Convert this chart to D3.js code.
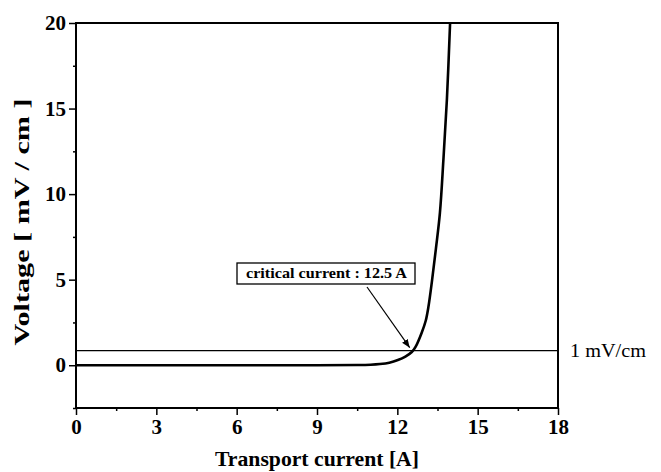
<!DOCTYPE html>
<html lang="en">
<head>
<meta charset="UTF-8">
<title>V-I curve</title>
<style>
  body { margin: 0; background: #fff; }
  text { font-family: "Liberation Serif", "DejaVu Serif", serif; }
</style>
</head>
<body>
<div class="chart"></div>
<script src="https://d3js.org/d3.v7.min.js"></script>
<script>
// data
const current = [0, 3, 6, 9, 10.5, 11, 11.35, 11.7, 12.02, 12.3, 12.54, 12.68, 12.91, 13.06, 13.16, 13.3, 13.44, 13.59, 13.72, 13.85, 13.97]
const voltage = [0, 0, 0, 0, 0.01, 0.03, 0.07, 0.15, 0.3, 0.5, 0.77, 1.07, 1.9, 2.6, 3.4, 5.0, 6.8, 8.9, 12.0, 15.5, 20]
const xTicks = [0, 3, 6, 9, 12, 15, 18]
const yTicks = [0, 5, 10, 15, 20]
const criterion = 0.85
const criterionLabel = '1 mV/cm'
const noteText = 'critical current :  12.5 A'
const criticalCurrent = 12.5

const width = 661, height = 472
const m = { left: 76, right: 103, top: 23, bottom: 64 }

const svg = d3.select('.chart').append('svg')
  .attr('width', width).attr('height', height)

const x = d3.scaleLinear().domain([0, 18]).range([m.left, width - m.right])
const y = d3.scaleLinear().domain([-2.5, 20]).range([height - m.bottom, m.top])

const data = current.map((c, i) => [c, voltage[i]])

// axes
svg.append('g')
  .attr('transform', 'translate(0,' + y(-2.5) + ')')
  .call(d3.axisBottom(x).tickValues(xTicks).tickSize(7).tickPadding(4))
svg.append('g')
  .attr('transform', 'translate(0,' + y(-2.5) + ')')
  .call(d3.axisBottom(x).tickValues(d3.range(1.5, 18, 3)).tickSize(3).tickFormat(''))

svg.append('g')
  .attr('transform', 'translate(' + x(0) + ',0)')
  .call(d3.axisLeft(y).tickValues(yTicks).tickSize(7).tickPadding(3))
svg.append('g')
  .attr('transform', 'translate(' + x(0) + ',0)')
  .call(d3.axisLeft(y).tickValues([-2.5, 2.5, 7.5, 12.5, 17.5]).tickSize(3).tickFormat(''))

svg.selectAll('.domain').remove()
svg.selectAll('.tick line').attr('stroke', '#000').attr('stroke-width', 1.5)
svg.selectAll('.tick text')
  .attr('font-family', '"Liberation Serif", serif')
  .attr('font-size', 21).attr('font-weight', 'bold')
  .attr('fill', '#000')

// frame
svg.append('rect')
  .attr('x', x(0)).attr('y', y(20))
  .attr('width', x(18) - x(0)).attr('height', y(-2.5) - y(20))
  .attr('fill', 'none').attr('stroke', '#000').attr('stroke-width', 2)

// criterion line
svg.append('line')
  .attr('x1', x(0)).attr('x2', x(18))
  .attr('y1', y(criterion)).attr('y2', y(criterion))
  .attr('stroke', '#000').attr('stroke-width', 1.3)
svg.append('text')
  .attr('x', x(18) + 12).attr('y', y(criterion) + 6)
  .attr('font-size', 18)
  .attr('textLength', 76).attr('lengthAdjust', 'spacingAndGlyphs')
  .text(criterionLabel)

// curve
svg.append('path')
  .datum(data)
  .attr('fill', 'none')
  .attr('stroke', '#000')
  .attr('stroke-width', 2.6)
  .attr('d', d3.line().x(d => x(d[0])).y(d => y(d[1])).curve(d3.curveCatmullRom.alpha(0.5)))

// annotation
svg.append('rect')
  .attr('x', 237).attr('y', 263)
  .attr('width', 178).attr('height', 21)
  .attr('fill', '#fff').attr('stroke', '#000').attr('stroke-width', 1.3)
svg.append('text')
  .attr('x', 246).attr('y', 278)
  .attr('font-size', 14).attr('font-weight', 'bold')
  .attr('textLength', 161).attr('lengthAdjust', 'spacingAndGlyphs')
  .text(noteText)

svg.append('defs').append('marker')
  .attr('id', 'arrow').attr('viewBox', '0 0 10 10')
  .attr('refX', 10).attr('refY', 5)
  .attr('markerWidth', 7).attr('markerHeight', 7)
  .attr('orient', 'auto')
  .append('path').attr('d', 'M0,1L10,5L0,9z').attr('fill', '#000')

svg.append('line')
  .attr('x1', 367).attr('y1', 287)
  .attr('x2', x(criticalCurrent) - 1).attr('y2', y(criterion) - 3)
  .attr('stroke', '#000').attr('stroke-width', 1.2)
  .attr('marker-end', 'url(#arrow)')

// axis titles
svg.append('text')
  .attr('x', (x(0) + x(18)) / 2).attr('y', 466)
  .attr('text-anchor', 'middle')
  .attr('font-size', 21).attr('font-weight', 'bold')
  .attr('textLength', 204).attr('lengthAdjust', 'spacingAndGlyphs')
  .text('Transport current [A]')
svg.append('text')
  .attr('transform', 'translate(29,222) rotate(-90)')
  .attr('text-anchor', 'middle')
  .attr('font-size', 21).attr('font-weight', 'bold')
  .attr('textLength', 247).attr('lengthAdjust', 'spacingAndGlyphs')
  .text('Voltage [  mV / cm ]')
</script>
</body>
</html>
